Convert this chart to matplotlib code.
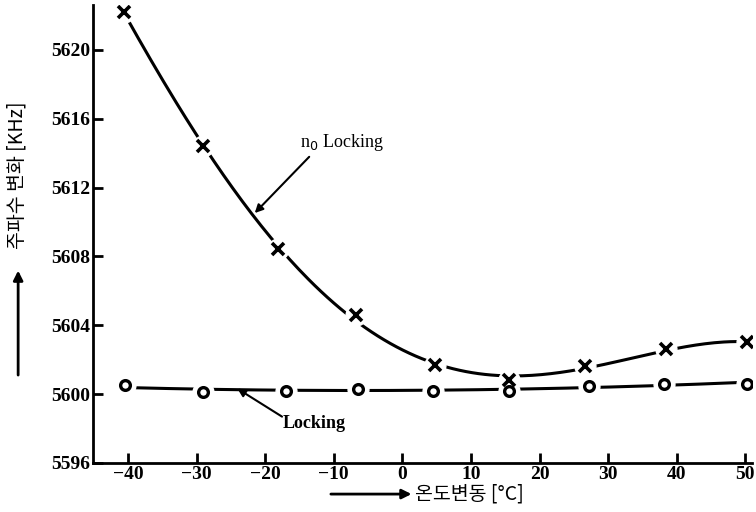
import numpy as np
import matplotlib
matplotlib.use("Agg")
import matplotlib.pyplot as plt

plt.rcParams['font.family'] = ['Liberation Serif', 'Noto Sans CJK KR', 'DejaVu Sans']

# temperature [°C] and frequency [KHz]
temp_n0 = [-40.6, -29.0, -18.1, -6.7, 4.8, 15.5, 26.6, 38.5, 50.3]
freq_n0 = [5622.2, 5614.4, 5608.4, 5604.6, 5601.7, 5600.8, 5601.6, 5602.6, 5603.0]

temp_lock = [-40.5, -29.0, -17.0, -6.5, 4.5, 15.5, 27.2, 38.2, 50.3]
freq_lock = [5600.5, 5600.1, 5600.2, 5600.3, 5600.2, 5600.2, 5600.45, 5600.6, 5600.6]

xticks = [-40, -30, -20, -10, 0, 10, 20, 30, 40, 50]
yticks = [5596, 5600, 5604, 5608, 5612, 5616, 5620]

fig = plt.figure(figsize=(7.56, 5.12), dpi=100)
ax = fig.add_axes([0.123, 0.096, 0.872, 0.894])

# smooth trend curves fitted to the measured points
p1 = np.polyfit(temp_n0, freq_n0, 4)
xs1 = np.linspace(-40.3, 51, 200)
ax.plot(xs1, np.polyval(p1, xs1), color='black', lw=2.2, zorder=2)
p2 = np.polyfit(temp_lock, freq_lock, 2)
xs2 = np.linspace(-40.5, 51, 200)
ax.plot(xs2, np.polyval(p2, xs2), color='black', lw=2.2, zorder=2)

# white halos to make the gaps round the markers
ax.plot(temp_n0, freq_n0, 'o', ms=15, color='white', zorder=3)
ax.plot(temp_lock, freq_lock, 'o', ms=15, color='white', zorder=3)
ax.plot(temp_n0, freq_n0, 'x', ms=9, mew=2.6, color='black', zorder=4)
ax.plot(temp_lock, freq_lock, 'o', ms=7, mew=2.4, mfc='white', mec='black', zorder=4)

ax.annotate('', xy=(-21.8, 5610.4), xytext=(-13.3, 5613.9),
            arrowprops=dict(arrowstyle='-|>', color='black', lw=1.5, mutation_scale=12))
ax.text(-14.9, 5614.6, r'n$_0$ Locking', fontsize=13, va='center', ha='left')

ax.annotate('', xy=(-24.4, 5600.4), xytext=(-17.2, 5598.6),
            arrowprops=dict(arrowstyle='-|>', color='black', lw=1.5, mutation_scale=12))
ax.text(-17.4, 5598.3, 'Locking', fontsize=13, fontweight='bold', va='center', ha='left')

ax.set_xlim(-45.1, 51)
ax.set_ylim(5596, 5622.6)
ax.set_xticks(xticks)
ax.set_yticks(yticks)
ax.set_xticklabels(['\u2212' + str(-t) if t < 0 else str(t) for t in xticks])
for s in ['top', 'right']:
    ax.spines[s].set_visible(False)
for s in ['left', 'bottom']:
    ax.spines[s].set_linewidth(2)
ax.tick_params(direction='in', length=7, width=2, labelsize=14, pad=2)
for lab in ax.get_xticklabels() + ax.get_yticklabels():
    lab.set_fontweight('bold')

fig.text(0.022, 0.658, '주파수 변화 [KHz]', rotation=90, fontsize=14,
         family=['Noto Sans CJK KR', 'DejaVu Sans'], ha='center', va='center')
fig.text(0.549, 0.035, '온도변동 [°C]', fontsize=14,
         family=['Noto Sans CJK KR', 'DejaVu Sans'], ha='left', va='center')
fig.add_artist(matplotlib.patches.FancyArrowPatch((0.024, 0.262), (0.024, 0.477),
               transform=fig.transFigure, arrowstyle='-|>', color='black', lw=2, mutation_scale=14))
fig.add_artist(matplotlib.patches.FancyArrowPatch((0.434, 0.035), (0.548, 0.035),
               transform=fig.transFigure, arrowstyle='-|>', color='black', lw=2, mutation_scale=14))

fig.savefig('out.png', dpi=100)
